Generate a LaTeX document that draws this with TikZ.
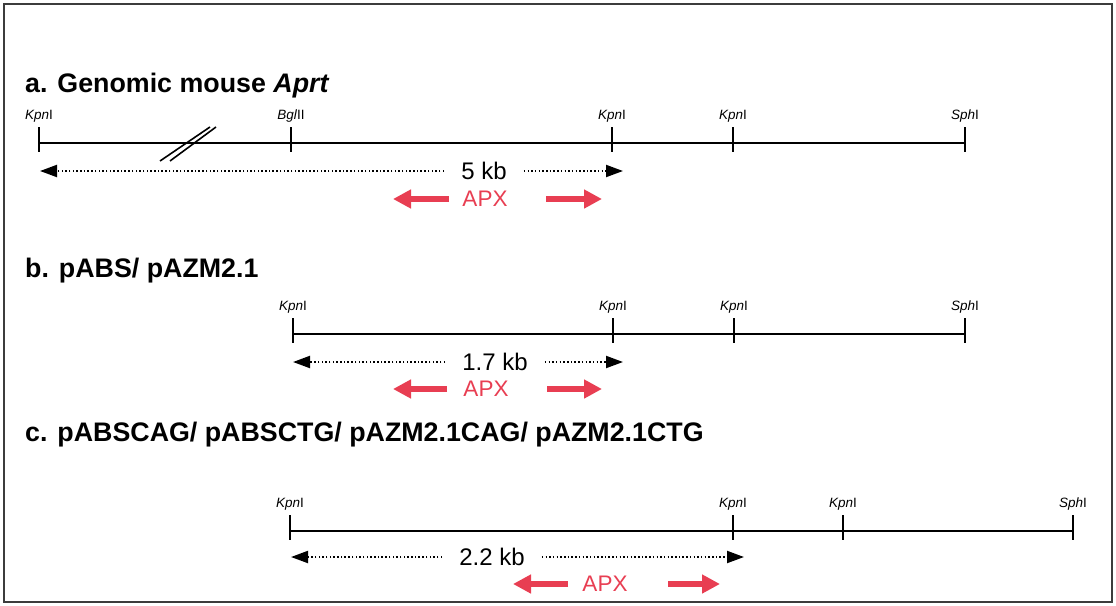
\documentclass[tikz,border=0pt]{standalone}
\usepackage{fontspec}
\setmainfont{Liberation Sans}
\usetikzlibrary{arrows.meta}
\definecolor{apxred}{RGB}{232,62,82}
\definecolor{framegray}{RGB}{60,60,60}
\begin{document}
\begin{tikzpicture}[x=1pt,y=-1pt,
  titletext/.style={anchor=base west, font=\fontsize{26.8}{30}\selectfont\bfseries, inner sep=0},
  sitelabel/.style={anchor=base, font=\fontsize{13.5}{15}\selectfont, inner sep=0},
  mapline/.style={line width=2pt},
  sitetick/.style={line width=2pt},
  dotarrow/.style={line width=2pt, dash pattern=on 1.5pt off 2.2pt, -{Triangle[length=17pt,width=12pt]}},
  kbtext/.style={font=\fontsize{24}{28}\selectfont, inner xsep=17pt, inner ysep=0},
  apxtext/.style={font=\fontsize{22.5}{26}\selectfont, text=apxred, inner sep=0},
  redarrow/.style={apxred, line width=6pt, -{Triangle[length=18pt,width=18pt]}},
]
\useasboundingbox (0,0) rectangle (1116,605);
\draw[framegray, line width=2pt] (4,4) rectangle (1112,602);

% ---------- a ----------
\node[titletext] (ta) at (25,92) {a. Genomic mouse \textit{Aprt}};
\foreach \n/\x in {1/39,2/291,3/612,4/733,5/965}{
  \coordinate (a\n) at (\x,143);
  \draw[sitetick] (\x,127) -- (\x,152);
}
\draw[mapline] (a1) -- (a5);
\node[sitelabel] (la1) at (39,119.5) {\textit{Kpn}I};
\node[sitelabel] (la2) at (291,119.5) {\textit{Bgl}II};
\node[sitelabel] (la3) at (612,119.5) {\textit{Kpn}I};
\node[sitelabel] (la4) at (733,119.5) {\textit{Kpn}I};
\node[sitelabel] (la5) at (965,119.5) {\textit{Sph}I};
\draw[line width=1.6pt] (160,161) -- (210,127);
\draw[line width=1.6pt] (170,161) -- (216,127);
\node[kbtext] (kba) at (484,171) {5 kb};
\coordinate (dal) at (40,171);
\coordinate (dar) at (623,171);
\draw[dotarrow] (kba) -- (dal);
\draw[dotarrow] (kba) -- (dar);
\node[apxtext] (apxa) at (485,199) {APX};
\coordinate (ral1) at (449,199); \coordinate (ral2) at (393,199);
\coordinate (rar1) at (546,199); \coordinate (rar2) at (602,199);
\draw[redarrow] (ral1) -- (ral2);
\draw[redarrow] (rar1) -- (rar2);

% ---------- b ----------
\node[titletext] (tb) at (25,277) {b. pABS/ pAZM2.1};
\foreach \n/\x in {1/293,2/613,3/734,4/965}{
  \coordinate (b\n) at (\x,334);
  \draw[sitetick] (\x,318) -- (\x,343);
}
\draw[mapline] (b1) -- (b4);
\node[sitelabel] (lb1) at (293,310.5) {\textit{Kpn}I};
\node[sitelabel] (lb2) at (613,310.5) {\textit{Kpn}I};
\node[sitelabel] (lb3) at (734,310.5) {\textit{Kpn}I};
\node[sitelabel] (lb4) at (965,310.5) {\textit{Sph}I};
\node[kbtext] (kbb) at (495,362) {1.7 kb};
\coordinate (dbl) at (293,362);
\coordinate (dbr) at (623,362);
\draw[dotarrow] (kbb) -- (dbl);
\draw[dotarrow] (kbb) -- (dbr);
\node[apxtext] (apxb) at (486,389) {APX};
\coordinate (rbl1) at (447,389); \coordinate (rbl2) at (393,389);
\coordinate (rbr1) at (547,389); \coordinate (rbr2) at (602,389);
\draw[redarrow] (rbl1) -- (rbl2);
\draw[redarrow] (rbr1) -- (rbr2);

% ---------- c ----------
\node[titletext] (tc) at (25,441) {c. pABSCAG/ pABSCTG/ pAZM2.1CAG/ pAZM2.1CTG};
\foreach \n/\x in {1/290,2/733,3/843,4/1073}{
  \coordinate (c\n) at (\x,531);
  \draw[sitetick] (\x,515) -- (\x,540);
}
\draw[mapline] (c1) -- (c4);
\node[sitelabel] (lc1) at (290,507.5) {\textit{Kpn}I};
\node[sitelabel] (lc2) at (733,507.5) {\textit{Kpn}I};
\node[sitelabel] (lc3) at (843,507.5) {\textit{Kpn}I};
\node[sitelabel] (lc4) at (1073,507.5) {\textit{Sph}I};
\node[kbtext] (kbc) at (492,557) {2.2 kb};
\coordinate (dcl) at (291,557);
\coordinate (dcr) at (744,557);
\draw[dotarrow] (kbc) -- (dcl);
\draw[dotarrow] (kbc) -- (dcr);
\node[apxtext] (apxc) at (605,584) {APX};
\coordinate (rcl1) at (568,584); \coordinate (rcl2) at (513,584);
\coordinate (rcr1) at (668,584); \coordinate (rcr2) at (720,584);
\draw[redarrow] (rcl1) -- (rcl2);
\draw[redarrow] (rcr1) -- (rcr2);
\end{tikzpicture}
\end{document}
